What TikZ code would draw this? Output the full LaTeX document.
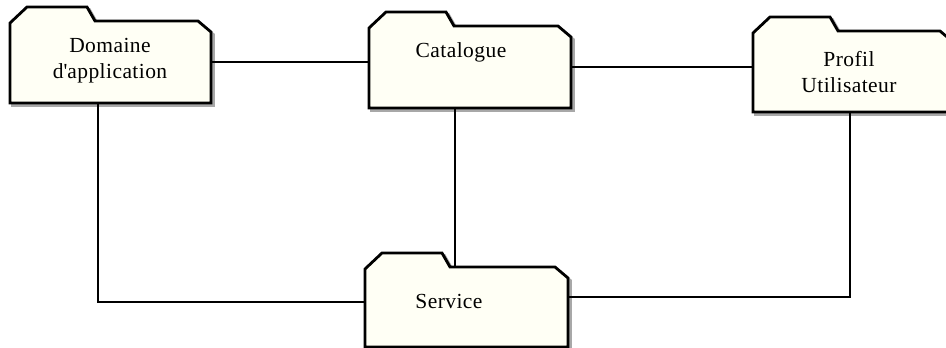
\documentclass[tikz,border=0pt]{standalone}
\usepackage{fontspec}
\setmainfont{Liberation Serif}[LetterSpace=2]
\usepackage{tikz}
\definecolor{folderfill}{HTML}{FFFFF5}
\definecolor{foldershade}{HTML}{A8A8A8}
% outline of a folder round the body node #1, moved by #2, in style #3
\newcommand{\folderoutline}[3]{%
  \draw[#3] ([shift={(#2,#2)}]#1.south west)
    -- ([shift={(#2,2+#2)}]#1.north west)
    -- ([shift={(17+#2,-14+#2)}]#1.north west)
    -- ([shift={(77+#2,-14+#2)}]#1.north west)
    -- ([shift={(85+#2,#2)}]#1.north west)
    -- ([shift={(-13+#2,#2)}]#1.north east)
    -- ([shift={(#2,11+#2)}]#1.north east)
    -- ([shift={(#2,#2)}]#1.south east) -- cycle;}

\begin{document}
\begin{tikzpicture}[x=1pt,y=-1pt,line width=2pt,
  folder/.style={rectangle,inner sep=0pt,outer sep=0pt,minimum width=201pt,minimum height=82pt},
  folderline/.style={draw=black,fill=folderfill,line width=2.8pt,line join=miter},
  foldershadow/.style={draw=foldershade,line width=2.6pt},
  lbl/.style={align=center,font=\fontsize{21.5}{26}\selectfont}]
\useasboundingbox (0,0) rectangle (946,348);
% folder bodies
\node[folder] (dom) at (110.5,62) {};
\node[folder,minimum width=202pt] (cat) at (470,67) {};
\node[folder,minimum width=200pt,minimum height=81pt] (prof) at (853,71.5) {};
\node[folder,minimum width=203pt,minimum height=80pt] (serv) at (466.5,307) {};
% folder outlines
\foreach \n in {dom,cat,prof,serv} {
  \folderoutline{\n}{2.5}{foldershadow}
  \folderoutline{\n}{0}{folderline}
}
% folder names
\node[lbl] (domname) at (110,61) {Domaine\\d\textquotesingle application};
\node[lbl] (catname) at (461,52) {Catalogue};
\node[lbl] (profname) at (849,72) {Profil\\Utilisateur};
\node[lbl] (servname) at (449,301) {Service};
% links
\draw (dom.east) -- (dom.east -| cat.west);
\draw (cat.east) -- (cat.east -| prof.west);
\draw ([xshift=-15pt]cat.south) -- ([xshift=-15pt]cat.south |- serv.north);
\draw ([xshift=-13pt]dom.south) |- ([yshift=5pt]serv.west);
\draw ([xshift=-3pt]prof.south) |- ([yshift=10pt]serv.east);
\end{tikzpicture}
\end{document}
